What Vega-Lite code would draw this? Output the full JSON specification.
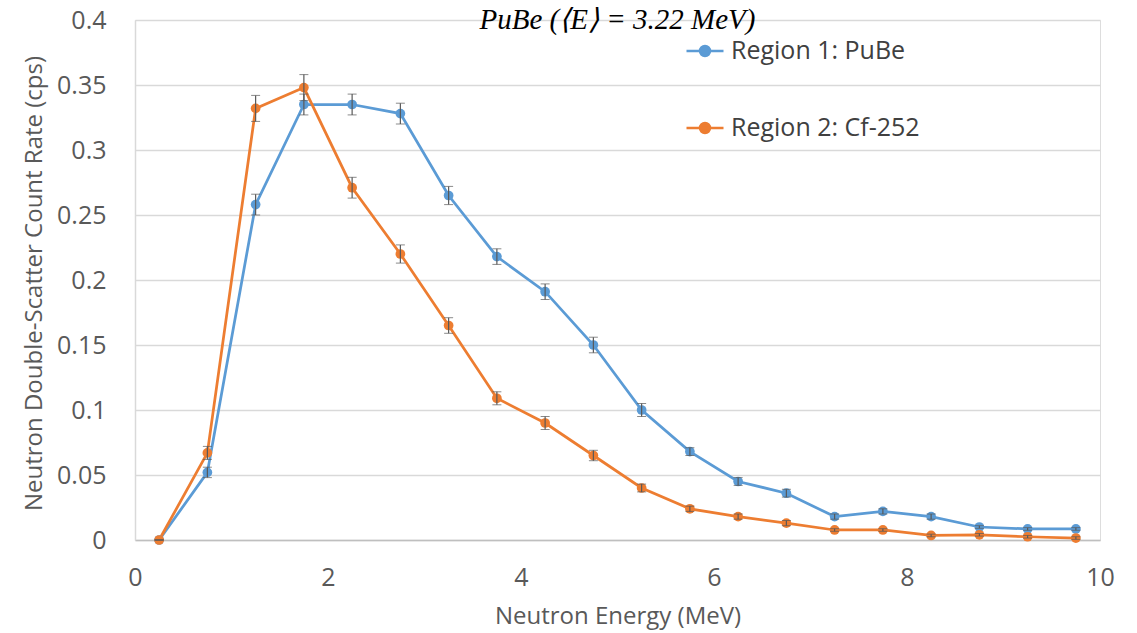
{
  "$schema": "https://vega.github.io/schema/vega-lite/v6.json",
  "autosize": {"type": "none"},
  "width": 965,
  "height": 520,
  "padding": {"left": 135, "top": 20, "right": 37, "bottom": 93},
  "background": "white",
  "title": {
    "text": "PuBe (⟨E⟩ = 3.22 MeV)",
    "font": "Liberation Serif",
    "fontStyle": "italic",
    "fontWeight": "normal",
    "fontSize": 29,
    "color": "#000000",
    "anchor": "middle",
    "frame": "group",
    "offset": -27
  },
  "data": {
    "values": [
      {"energy": 0.25, "series": "Region 1: PuBe", "rate": 0.0, "err": 0.0},
      {"energy": 0.75, "series": "Region 1: PuBe", "rate": 0.052, "err": 0.004},
      {"energy": 1.25, "series": "Region 1: PuBe", "rate": 0.258, "err": 0.008},
      {"energy": 1.75, "series": "Region 1: PuBe", "rate": 0.335, "err": 0.008},
      {"energy": 2.25, "series": "Region 1: PuBe", "rate": 0.335, "err": 0.008},
      {"energy": 2.75, "series": "Region 1: PuBe", "rate": 0.328, "err": 0.008},
      {"energy": 3.25, "series": "Region 1: PuBe", "rate": 0.265, "err": 0.007},
      {"energy": 3.75, "series": "Region 1: PuBe", "rate": 0.218, "err": 0.006},
      {"energy": 4.25, "series": "Region 1: PuBe", "rate": 0.191, "err": 0.006},
      {"energy": 4.75, "series": "Region 1: PuBe", "rate": 0.150, "err": 0.006},
      {"energy": 5.25, "series": "Region 1: PuBe", "rate": 0.100, "err": 0.005},
      {"energy": 5.75, "series": "Region 1: PuBe", "rate": 0.068, "err": 0.003},
      {"energy": 6.25, "series": "Region 1: PuBe", "rate": 0.045, "err": 0.003},
      {"energy": 6.75, "series": "Region 1: PuBe", "rate": 0.036, "err": 0.003},
      {"energy": 7.25, "series": "Region 1: PuBe", "rate": 0.018, "err": 0.002},
      {"energy": 7.75, "series": "Region 1: PuBe", "rate": 0.022, "err": 0.002},
      {"energy": 8.25, "series": "Region 1: PuBe", "rate": 0.018, "err": 0.002},
      {"energy": 8.75, "series": "Region 1: PuBe", "rate": 0.010, "err": 0.001},
      {"energy": 9.25, "series": "Region 1: PuBe", "rate": 0.0085, "err": 0.001},
      {"energy": 9.75, "series": "Region 1: PuBe", "rate": 0.0085, "err": 0.001},
      {"energy": 0.25, "series": "Region 2: Cf-252", "rate": 0.0, "err": 0.0},
      {"energy": 0.75, "series": "Region 2: Cf-252", "rate": 0.067, "err": 0.005},
      {"energy": 1.25, "series": "Region 2: Cf-252", "rate": 0.332, "err": 0.010},
      {"energy": 1.75, "series": "Region 2: Cf-252", "rate": 0.348, "err": 0.010},
      {"energy": 2.25, "series": "Region 2: Cf-252", "rate": 0.271, "err": 0.008},
      {"energy": 2.75, "series": "Region 2: Cf-252", "rate": 0.220, "err": 0.007},
      {"energy": 3.25, "series": "Region 2: Cf-252", "rate": 0.165, "err": 0.006},
      {"energy": 3.75, "series": "Region 2: Cf-252", "rate": 0.109, "err": 0.005},
      {"energy": 4.25, "series": "Region 2: Cf-252", "rate": 0.090, "err": 0.005},
      {"energy": 4.75, "series": "Region 2: Cf-252", "rate": 0.065, "err": 0.004},
      {"energy": 5.25, "series": "Region 2: Cf-252", "rate": 0.040, "err": 0.003},
      {"energy": 5.75, "series": "Region 2: Cf-252", "rate": 0.024, "err": 0.002},
      {"energy": 6.25, "series": "Region 2: Cf-252", "rate": 0.018, "err": 0.002},
      {"energy": 6.75, "series": "Region 2: Cf-252", "rate": 0.013, "err": 0.002},
      {"energy": 7.25, "series": "Region 2: Cf-252", "rate": 0.0077, "err": 0.001},
      {"energy": 7.75, "series": "Region 2: Cf-252", "rate": 0.0077, "err": 0.001},
      {"energy": 8.25, "series": "Region 2: Cf-252", "rate": 0.0035, "err": 0.001},
      {"energy": 8.75, "series": "Region 2: Cf-252", "rate": 0.004, "err": 0.001},
      {"energy": 9.25, "series": "Region 2: Cf-252", "rate": 0.0025, "err": 0.001},
      {"energy": 9.75, "series": "Region 2: Cf-252", "rate": 0.0015, "err": 0.001}
    ]
  },
  "encoding": {
    "x": {
      "field": "energy",
      "type": "quantitative",
      "scale": {"domain": [0, 10], "nice": false, "zero": true},
      "axis": {
        "title": "Neutron Energy (MeV)",
        "values": [0, 2, 4, 6, 8, 10],
        "grid": false,
        "ticks": false,
        "domain": true,
        "domainColor": "#bfbfbf",
        "domainWidth": 1.5,
        "labelFlush": false,
        "labelOverlap": false,
        "labelPadding": 25,
        "labelFont": "Open Sans",
        "labelFontSize": 25,
        "labelColor": "#595959",
        "titleFont": "Open Sans",
        "titleFontSize": 24,
        "titleFontWeight": "normal",
        "titleColor": "#595959",
        "titleY": 76,
        "titleBaseline": "middle"
      }
    },
    "y": {
      "field": "rate",
      "type": "quantitative",
      "scale": {"domain": [0, 0.4], "nice": false},
      "axis": {
        "title": "Neutron Double-Scatter Count Rate (cps)",
        "values": [0, 0.05, 0.1, 0.15, 0.2, 0.25, 0.3, 0.35, 0.4],
        "format": "~g",
        "grid": true,
        "gridColor": "#d9d9d9",
        "gridWidth": 1.5,
        "ticks": false,
        "domain": true,
        "domainColor": "#d9d9d9",
        "domainWidth": 1.5,
        "labelFlush": false,
        "labelOverlap": false,
        "labelPadding": 29,
        "labelFont": "Open Sans",
        "labelFontSize": 25,
        "labelColor": "#595959",
        "titleFont": "Open Sans",
        "titleFontSize": 24,
        "titleFontWeight": "normal",
        "titleColor": "#595959",
        "titleX": -101,
        "titleY": 263,
        "titleBaseline": "middle",
        "titleAlign": "center",
        "titleAngle": -90
      }
    },
    "color": {
      "field": "series",
      "type": "nominal",
      "scale": {
        "domain": ["Region 1: PuBe", "Region 2: Cf-252"],
        "range": ["#5b9bd5", "#ed7d31"]
      },
      "legend": {
        "title": null,
        "orient": "none",
        "legendX": 550,
        "legendY": 11,
        "direction": "vertical",
        "symbolType": "M-1,0H1M-0.27,0A0.27,0.27 0 1,0 0.27,0A0.27,0.27 0 1,0 -0.27,0Z",
        "symbolSize": 1369,
        "symbolStrokeWidth": 2.5,
        "symbolOffset": 0,
        "labelFont": "Open Sans",
        "labelFontSize": 25,
        "labelColor": "#404040",
        "labelLimit": 400,
        "labelOffset": 6,
        "rowPadding": 44,
        "padding": 0
      }
    }
  },
  "layer": [
    {
      "mark": {"type": "line", "strokeWidth": 2.75, "interpolate": "linear"}
    },
    {
      "mark": {"type": "point", "shape": "circle", "filled": true, "size": 95, "opacity": 1}
    },
    {
      "mark": {"type": "errorbar", "ticks": {"size": 9, "color": "#595959", "strokeWidth": 1.2}, "rule": {"color": "#595959", "strokeWidth": 1.2}},
      "encoding": {
        "y": {"field": "rate", "type": "quantitative"},
        "yError": {"field": "err"},
        "color": {"value": "#595959"}
      }
    }
  ]
}
